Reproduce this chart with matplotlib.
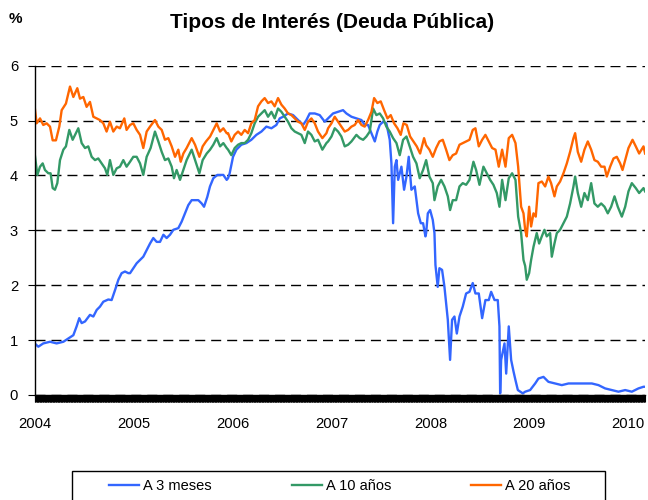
import matplotlib
matplotlib.use("Agg")
import matplotlib.pyplot as plt
from matplotlib.ticker import MultipleLocator
from matplotlib.patches import Rectangle

plt.rcParams['font.family'] = ['Liberation Sans', 'DejaVu Sans']

# data (decimal years, %)
LABELS = ["A 3 meses", "A 10 años", "A 20 años"]
COLORS = ["#3366FF", "#339966", "#FF6600"]
YEAR_TICKS = [2004, 2005, 2006, 2007, 2008, 2009, 2010]

t_3m = [2004.000, 2004.037, 2004.087, 2004.155, 2004.222, 2004.290, 2004.340, 2004.391,
        2004.424, 2004.451, 2004.475, 2004.509, 2004.559, 2004.593, 2004.627, 2004.660,
        2004.694, 2004.744, 2004.778, 2004.812, 2004.846, 2004.879, 2004.913, 2004.947,
        2004.964, 2004.997, 2005.031, 2005.065, 2005.098, 2005.132, 2005.166, 2005.199,
        2005.233, 2005.267, 2005.301, 2005.334, 2005.368, 2005.402, 2005.452, 2005.486,
        2005.520, 2005.553, 2005.587, 2005.621, 2005.654, 2005.688, 2005.712, 2005.745,
        2005.772, 2005.806, 2005.847, 2005.874, 2005.907, 2005.941, 2005.955, 2005.971,
        2006.005, 2006.039, 2006.089, 2006.140, 2006.190, 2006.241, 2006.292, 2006.342,
        2006.393, 2006.443, 2006.477, 2006.511, 2006.561, 2006.612, 2006.662, 2006.713,
        2006.747, 2006.780, 2006.831, 2006.881, 2006.932, 2006.966, 2007.016, 2007.067,
        2007.117, 2007.151, 2007.202, 2007.252, 2007.303, 2007.336, 2007.370, 2007.404,
        2007.438, 2007.464, 2007.488, 2007.522, 2007.555, 2007.589, 2007.606, 2007.623,
        2007.640, 2007.657, 2007.674, 2007.707, 2007.734, 2007.758, 2007.781, 2007.808,
        2007.842, 2007.859, 2007.876, 2007.903, 2007.926, 2007.950, 2007.957, 2007.974,
        2007.997, 2008.024, 2008.041, 2008.051, 2008.074, 2008.091, 2008.118, 2008.142,
        2008.159, 2008.176, 2008.199, 2008.219, 2008.243, 2008.267, 2008.294, 2008.327,
        2008.361, 2008.395, 2008.428, 2008.455, 2008.489, 2008.523, 2008.556, 2008.590,
        2008.614, 2008.648, 2008.681, 2008.698, 2008.705, 2008.715, 2008.749, 2008.766,
        2008.792, 2008.816, 2008.840, 2008.860, 2008.884, 2008.934, 2008.958, 2009.008,
        2009.059, 2009.092, 2009.143, 2009.193, 2009.261, 2009.328, 2009.396, 2009.497,
        2009.632, 2009.699, 2009.766, 2009.834, 2009.901, 2009.969, 2010.036, 2010.103,
        2010.154, 2010.170]
r_3m = [0.94, 0.88, 0.94, 0.97, 0.94, 0.97, 1.03, 1.09,
        1.25, 1.40, 1.31, 1.34, 1.46, 1.43, 1.55, 1.61,
        1.70, 1.74, 1.73, 1.91, 2.10, 2.22, 2.25, 2.22,
        2.22, 2.31, 2.40, 2.46, 2.52, 2.64, 2.76, 2.86,
        2.79, 2.79, 2.92, 2.86, 2.92, 3.01, 3.04, 3.16,
        3.31, 3.46, 3.55, 3.55, 3.55, 3.49, 3.43, 3.61,
        3.80, 3.95, 4.01, 4.01, 4.01, 3.92, 3.95, 4.04,
        4.34, 4.47, 4.56, 4.59, 4.65, 4.74, 4.80, 4.89,
        4.86, 4.92, 5.04, 5.07, 5.13, 5.10, 5.01, 4.92,
        5.01, 5.13, 5.13, 5.10, 4.98, 5.04, 5.13, 5.16,
        5.19, 5.13, 5.07, 5.04, 5.01, 4.92, 4.92, 4.77,
        4.62, 4.80, 4.92, 4.98, 4.95, 4.65, 4.22, 3.13,
        4.16, 4.28, 3.92, 4.16, 3.74, 3.98, 4.34, 3.74,
        3.80, 3.55, 3.31, 3.13, 3.13, 2.89, 2.95, 3.31,
        3.37, 3.19, 2.95, 2.37, 1.97, 2.31, 2.28, 1.97,
        1.67, 1.37, 0.64, 1.37, 1.43, 1.12, 1.43, 1.61,
        1.85, 1.88, 2.04, 1.85, 1.85, 1.40, 1.73, 1.73,
        1.88, 1.73, 1.73, 1.25, 0.03, 0.64, 0.94, 0.39,
        1.25, 0.64, 0.43, 0.27, 0.09, 0.03, 0.06, 0.09,
        0.21, 0.30, 0.33, 0.24, 0.21, 0.18, 0.21, 0.21,
        0.21, 0.18, 0.12, 0.09, 0.06, 0.09, 0.06, 0.12,
        0.15, 0.15]

t_10y = [2004.000, 2004.027, 2004.054, 2004.081, 2004.104, 2004.138, 2004.161, 2004.182,
         2004.205, 2004.229, 2004.256, 2004.290, 2004.316, 2004.350, 2004.384, 2004.408,
         2004.441, 2004.475, 2004.509, 2004.542, 2004.576, 2004.610, 2004.643, 2004.677,
         2004.711, 2004.734, 2004.761, 2004.795, 2004.829, 2004.862, 2004.896, 2004.929,
         2004.964, 2004.997, 2005.031, 2005.065, 2005.098, 2005.132, 2005.172, 2005.216,
         2005.250, 2005.284, 2005.317, 2005.351, 2005.385, 2005.408, 2005.435, 2005.469,
         2005.503, 2005.536, 2005.587, 2005.621, 2005.665, 2005.698, 2005.739, 2005.773,
         2005.806, 2005.840, 2005.874, 2005.907, 2005.941, 2005.955, 2005.988, 2006.022,
         2006.056, 2006.089, 2006.123, 2006.157, 2006.190, 2006.224, 2006.258, 2006.292,
         2006.325, 2006.359, 2006.393, 2006.426, 2006.460, 2006.494, 2006.527, 2006.561,
         2006.595, 2006.629, 2006.662, 2006.696, 2006.730, 2006.763, 2006.797, 2006.831,
         2006.864, 2006.908, 2006.949, 2006.966, 2007.000, 2007.033, 2007.067, 2007.100,
         2007.134, 2007.168, 2007.202, 2007.252, 2007.286, 2007.320, 2007.353, 2007.387,
         2007.421, 2007.454, 2007.488, 2007.522, 2007.555, 2007.589, 2007.623, 2007.657,
         2007.690, 2007.724, 2007.758, 2007.791, 2007.825, 2007.859, 2007.892, 2007.926,
         2007.957, 2007.990, 2008.024, 2008.041, 2008.074, 2008.108, 2008.142, 2008.176,
         2008.199, 2008.226, 2008.260, 2008.294, 2008.327, 2008.361, 2008.395, 2008.435,
         2008.462, 2008.496, 2008.536, 2008.570, 2008.604, 2008.637, 2008.671, 2008.698,
         2008.725, 2008.759, 2008.792, 2008.826, 2008.860, 2008.887, 2008.917, 2008.941,
         2008.958, 2008.974, 2008.998, 2009.018, 2009.042, 2009.075, 2009.099, 2009.126,
         2009.153, 2009.176, 2009.210, 2009.227, 2009.254, 2009.278, 2009.311, 2009.345,
         2009.379, 2009.412, 2009.446, 2009.463, 2009.490, 2009.524, 2009.557, 2009.591,
         2009.625, 2009.658, 2009.692, 2009.726, 2009.760, 2009.793, 2009.827, 2009.861,
         2009.894, 2009.935, 2009.969, 2010.002, 2010.036, 2010.076, 2010.110, 2010.154,
         2010.170]
r_10y = [4.40, 4.01, 4.16, 4.22, 4.10, 4.04, 4.04, 3.77,
         3.74, 3.86, 4.28, 4.47, 4.53, 4.83, 4.65, 4.74,
         4.86, 4.59, 4.50, 4.53, 4.34, 4.28, 4.31, 4.22,
         4.13, 4.01, 4.28, 4.01, 4.13, 4.16, 4.28, 4.16,
         4.25, 4.34, 4.34, 4.22, 4.01, 4.34, 4.50, 4.80,
         4.62, 4.43, 4.28, 4.31, 4.16, 3.95, 4.10, 3.92,
         4.10, 4.28, 4.47, 4.28, 4.04, 4.28, 4.40, 4.47,
         4.56, 4.68, 4.53, 4.59, 4.50, 4.47, 4.37, 4.50,
         4.56, 4.59, 4.59, 4.65, 4.77, 4.95, 5.07, 5.13,
         5.19, 5.07, 5.16, 5.04, 5.22, 5.16, 5.07, 4.98,
         4.86, 4.80, 4.77, 4.74, 4.59, 4.80, 4.74, 4.62,
         4.65, 4.47, 4.59, 4.62, 4.71, 4.86, 4.80, 4.71,
         4.53, 4.56, 4.62, 4.74, 4.68, 4.65, 4.71, 4.80,
         5.22, 5.10, 5.13, 5.04, 4.89, 4.80, 4.68, 4.59,
         4.37, 4.65, 4.71, 4.53, 4.34, 4.22, 3.95, 4.10,
         4.28, 3.98, 3.86, 3.55, 3.80, 3.92, 3.80, 3.62,
         3.37, 3.55, 3.55, 3.80, 3.86, 3.83, 3.92, 4.25,
         4.10, 3.83, 4.16, 4.04, 3.92, 3.83, 3.68, 3.43,
         3.92, 3.55, 3.95, 4.04, 3.92, 3.25, 2.95, 2.46,
         2.35, 2.10, 2.22, 2.46, 2.70, 2.95, 2.76, 2.89,
         3.01, 2.89, 2.95, 2.52, 2.76, 2.95, 3.01, 3.13,
         3.25, 3.49, 3.80, 3.98, 3.68, 3.43, 3.68, 3.55,
         3.86, 3.49, 3.43, 3.49, 3.43, 3.31, 3.43, 3.62,
         3.43, 3.25, 3.43, 3.71, 3.86, 3.77, 3.68, 3.77,
         3.71]

t_20y = [2004.000, 2004.020, 2004.054, 2004.087, 2004.121, 2004.155, 2004.182, 2004.215,
         2004.249, 2004.273, 2004.316, 2004.357, 2004.391, 2004.431, 2004.458, 2004.492,
         2004.525, 2004.559, 2004.593, 2004.627, 2004.660, 2004.694, 2004.727, 2004.761,
         2004.795, 2004.829, 2004.862, 2004.906, 2004.929, 2004.964, 2004.997, 2005.031,
         2005.065, 2005.098, 2005.132, 2005.166, 2005.216, 2005.250, 2005.284, 2005.317,
         2005.351, 2005.385, 2005.419, 2005.452, 2005.476, 2005.503, 2005.536, 2005.587,
         2005.621, 2005.665, 2005.698, 2005.732, 2005.773, 2005.806, 2005.840, 2005.874,
         2005.907, 2005.941, 2005.955, 2005.988, 2006.022, 2006.056, 2006.089, 2006.123,
         2006.157, 2006.190, 2006.224, 2006.258, 2006.292, 2006.325, 2006.359, 2006.393,
         2006.426, 2006.460, 2006.494, 2006.527, 2006.561, 2006.595, 2006.629, 2006.662,
         2006.696, 2006.730, 2006.763, 2006.797, 2006.831, 2006.864, 2006.908, 2006.949,
         2006.966, 2007.000, 2007.033, 2007.067, 2007.100, 2007.134, 2007.168, 2007.202,
         2007.235, 2007.269, 2007.303, 2007.336, 2007.370, 2007.404, 2007.431, 2007.464,
         2007.498, 2007.532, 2007.566, 2007.599, 2007.633, 2007.667, 2007.700, 2007.727,
         2007.761, 2007.795, 2007.828, 2007.862, 2007.896, 2007.936, 2007.957, 2007.990,
         2008.024, 2008.058, 2008.091, 2008.125, 2008.159, 2008.192, 2008.226, 2008.260,
         2008.294, 2008.327, 2008.361, 2008.395, 2008.428, 2008.455, 2008.489, 2008.523,
         2008.556, 2008.590, 2008.624, 2008.658, 2008.691, 2008.725, 2008.759, 2008.792,
         2008.826, 2008.860, 2008.887, 2008.917, 2008.941, 2008.958, 2008.974, 2008.998,
         2009.018, 2009.042, 2009.065, 2009.092, 2009.126, 2009.160, 2009.193, 2009.220,
         2009.254, 2009.278, 2009.311, 2009.345, 2009.379, 2009.412, 2009.446, 2009.463,
         2009.490, 2009.524, 2009.557, 2009.591, 2009.625, 2009.658, 2009.692, 2009.726,
         2009.760, 2009.783, 2009.817, 2009.851, 2009.884, 2009.918, 2009.942, 2009.969,
         2010.002, 2010.043, 2010.076, 2010.110, 2010.154, 2010.170]
r_20y = [5.25, 4.95, 5.04, 4.92, 4.95, 4.89, 4.64, 4.64,
         4.89, 5.19, 5.31, 5.62, 5.43, 5.59, 5.40, 5.43,
         5.25, 5.34, 5.07, 5.04, 5.01, 4.95, 4.80, 4.98,
         4.80, 4.89, 4.86, 5.04, 4.83, 4.92, 4.95, 4.83,
         4.74, 4.50, 4.80, 4.89, 5.01, 4.89, 4.83, 4.65,
         4.68, 4.53, 4.34, 4.47, 4.25, 4.40, 4.50, 4.68,
         4.56, 4.34, 4.53, 4.62, 4.71, 4.83, 4.95, 4.80,
         4.86, 4.77, 4.77, 4.62, 4.74, 4.80, 4.74, 4.83,
         4.77, 4.95, 5.01, 5.26, 5.35, 5.41, 5.32, 5.35,
         5.26, 5.41, 5.29, 5.22, 5.13, 5.10, 5.04, 4.98,
         4.95, 4.83, 4.98, 5.04, 4.95, 4.80, 4.68, 4.77,
         4.86, 4.95, 5.07, 4.98, 4.89, 4.80, 4.83, 4.89,
         4.92, 5.01, 4.92, 4.89, 5.01, 5.16, 5.41, 5.32,
         5.35, 5.19, 5.04, 5.10, 4.95, 4.86, 4.74, 4.95,
         4.92, 4.71, 4.62, 4.53, 4.40, 4.68, 4.55, 4.47,
         4.34, 4.50, 4.62, 4.65, 4.47, 4.28, 4.37, 4.40,
         4.56, 4.59, 4.62, 4.65, 4.83, 4.86, 4.53, 4.65,
         4.74, 4.62, 4.50, 4.47, 4.16, 4.47, 4.16, 4.68,
         4.74, 4.59, 4.16, 3.43, 3.31, 3.01, 2.89, 3.43,
         3.07, 3.31, 3.25, 3.86, 3.89, 3.80, 3.98, 3.86,
         3.62, 3.80, 3.89, 4.04, 4.22, 4.43, 4.68, 4.77,
         4.43, 4.25, 4.47, 4.62, 4.47, 4.28, 4.25, 4.16,
         4.16, 3.98, 4.16, 4.31, 4.34, 4.22, 4.10, 4.28,
         4.50, 4.65, 4.53, 4.40, 4.53, 4.40]

fig = plt.figure(figsize=(6.48, 5.0), dpi=100)
ax = fig.add_axes([0.0535, 0.21, 0.942, 0.6586])

lines = []
for t, r, c, lab in zip([t_3m, t_10y, t_20y], [r_3m, r_10y, r_20y], COLORS, LABELS):
    ln, = ax.plot(t, r, color=c, lw=1.7, label=lab)
    lines.append(ln)

ax.set_xlim(2004, 2010.17)
ax.set_ylim(0, 6)
ax.set_xticks(YEAR_TICKS)
ax.set_xticklabels([str(y) for y in YEAR_TICKS])
ax.set_yticks(range(0, 7))
ax.xaxis.set_minor_locator(MultipleLocator(1 / 160))

ax.spines['top'].set_visible(False)
ax.spines['right'].set_visible(False)
ax.spines['left'].set_linewidth(1.0)
ax.spines['bottom'].set_linewidth(1.0)

ax.yaxis.grid(True, color='black', lw=1.0, linestyle=(0, (7.2, 4.3)))
ax.set_axisbelow(True)

ax.tick_params(axis='x', which='major', direction='out', length=5, width=0.8,
               pad=11, labelsize=10.6)
ax.tick_params(axis='x', which='minor', direction='out', length=5, width=0.8)
ax.tick_params(axis='y', direction='out', length=5, width=0.8, pad=7, labelsize=10.6)

fig.text(0.513, 0.956, "Tipos de Interés (Deuda Pública)", ha='center', va='center',
         fontsize=15, fontweight='bold')
fig.text(0.023, 0.962, "%", ha='center', va='center', fontsize=11, fontweight='bold')

# legend box at the bottom, running off the figure edge
fig.patches.append(Rectangle((72 / 648, -0.05), 533 / 648, 0.05 + 29 / 500,
                             transform=fig.transFigure, fill=False,
                             edgecolor='black', lw=1.0))
fig.legend(handles=lines, loc='center', bbox_to_anchor=(340 / 648, 1 - 486 / 500),
           ncol=3, frameon=False, fontsize=10.5, handlelength=2.05, handletextpad=0.27,
           columnspacing=5.5)

fig.savefig("out.png", dpi=100)
